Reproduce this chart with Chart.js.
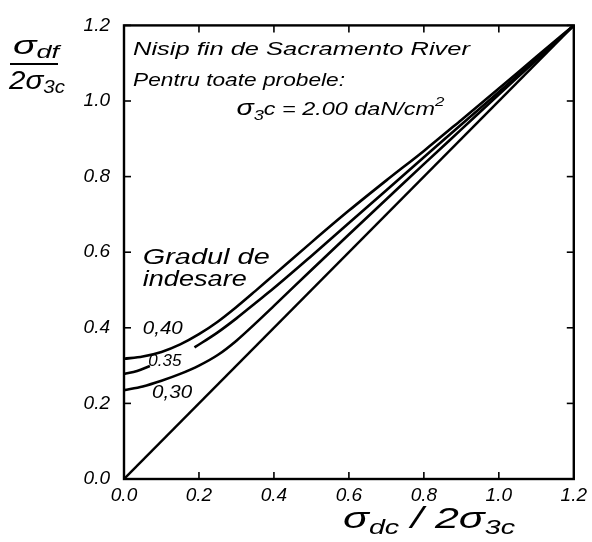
<!DOCTYPE html>
<html><head><meta charset="utf-8">
<script src="https://cdn.jsdelivr.net/npm/chart.js@4/dist/chart.umd.min.js"></script>
<style>html,body{margin:0;padding:0;background:#fff}#wrap{width:592px;height:542px}</style>
</head><body><div id="wrap"><canvas id="c" width="592" height="542"></canvas></div>
<script>
// ---- data ----
const xTicks = [0, 0.2, 0.4, 0.6, 0.8, 1.0, 1.2];
const yTicks = [0, 0.2, 0.4, 0.6, 0.8, 1.0, 1.2];
const densityLabels = ['0,40', '0.35', '0,30'];

const x40 = [0, 0.05, 0.1, 0.15, 0.2, 0.25, 0.3, 0.35, 0.4, 0.5, 0.6, 0.7, 0.8, 0.9, 1.0, 1.1, 1.2];
const y40 = [0.318, 0.324, 0.336, 0.356, 0.383, 0.416, 0.455, 0.497, 0.54, 0.626, 0.71, 0.79, 0.868, 0.95, 1.033, 1.117, 1.2];

const x35 = [0, 0.035, 0.069, 0.13, 0.188, 0.25, 0.3, 0.35, 0.4, 0.5, 0.6, 0.7, 0.8, 0.9, 1.0, 1.1, 1.2];
const y35 = [0.278, 0.286, 0.299, null, 0.348, 0.388, 0.425, 0.465, 0.505, 0.59, 0.677, 0.764, 0.851, 0.938, 1.024, 1.111, 1.2];

const x30 = [0, 0.05, 0.1, 0.15, 0.2, 0.25, 0.3, 0.35, 0.4, 0.5, 0.6, 0.7, 0.8, 0.9, 1.0, 1.1, 1.2];
const y30 = [0.235, 0.245, 0.26, 0.278, 0.30, 0.328, 0.366, 0.411, 0.458, 0.553, 0.647, 0.74, 0.833, 0.925, 1.017, 1.108, 1.2];

const xDiag = [0, 1.2];
const yDiag = [0, 1.2];

const textTitle1 = 'Nisip fin de Sacramento River';
const textTitle2 = 'Pentru toate probele:';
const textLegend1 = 'Gradul de';
const textLegend2 = 'indesare';

function pts(xs, ys) { return xs.map((x, i) => ({x: x, y: ys[i]})); }

const FONT = '"Liberation Sans", "DejaVu Sans", sans-serif';

function lineDs(xs, ys) {
  return {
    data: pts(xs, ys), borderColor: '#000', borderWidth: 2.6, pointRadius: 0,
    fill: false, spanGaps: false, cubicInterpolationMode: 'monotone'
  };
}

// draws a run of [text, size, dy] parts, stretched horizontally to a target width
function drawRun(ctx, parts, x, y, targetW) {
  let total = 0;
  parts.forEach(p => { ctx.font = 'italic ' + p[1] + 'px ' + FONT; total += ctx.measureText(p[0]).width; });
  const sx = targetW ? targetW / total : 1;
  ctx.save();
  ctx.translate(x, y);
  ctx.scale(sx, 1);
  let cx = 0;
  parts.forEach(p => {
    ctx.font = 'italic ' + p[1] + 'px ' + FONT;
    ctx.fillText(p[0], cx, p[2] || 0);
    cx += ctx.measureText(p[0]).width;
  });
  ctx.restore();
}

const decor = {
  id: 'decor',
  afterDraw(chart) {
    const ctx = chart.ctx, a = chart.chartArea;
    const xs = chart.scales.x, ys = chart.scales.y;
    const X = v => xs.getPixelForValue(v), Y = v => ys.getPixelForValue(v);
    ctx.save();
    // frame
    ctx.strokeStyle = '#000'; ctx.lineWidth = 2.4;
    ctx.strokeRect(a.left, a.top, a.right - a.left, a.bottom - a.top);
    // inward ticks
    ctx.lineWidth = 1.6;
    xTicks.forEach(v => {
      const px = X(v);
      ctx.beginPath(); ctx.moveTo(px, a.bottom); ctx.lineTo(px, a.bottom - 7); ctx.stroke();
      ctx.beginPath(); ctx.moveTo(px, a.top); ctx.lineTo(px, a.top + 7); ctx.stroke();
    });
    yTicks.forEach(v => {
      const py = Y(v);
      ctx.beginPath(); ctx.moveTo(a.left, py); ctx.lineTo(a.left + 7, py); ctx.stroke();
      ctx.beginPath(); ctx.moveTo(a.right, py); ctx.lineTo(a.right - 7, py); ctx.stroke();
    });
    ctx.fillStyle = '#000';
    ctx.textBaseline = 'alphabetic';
    ctx.textAlign = 'left';
    // notes
    drawRun(ctx, [[textTitle1, 19]], X(0.024), Y(1.122), 337);
    drawRun(ctx, [[textTitle2, 19]], X(0.024), Y(1.04), 212);
    drawRun(ctx, [['σ', 22], ['3', 14, 5], ['c = 2.00 daN/cm', 18], ['2', 13, -9]], X(0.30), Y(0.963), 208);
    // legend
    drawRun(ctx, [[textLegend1, 22]], X(0.05), Y(0.57), 127);
    drawRun(ctx, [[textLegend2, 22]], X(0.05), Y(0.51), 104);
    drawRun(ctx, [[densityLabels[0], 18]], X(0.05), Y(0.383), 40);
    drawRun(ctx, [[densityLabels[1], 16]], X(0.065), Y(0.298), 33);
    drawRun(ctx, [[densityLabels[2], 18]], X(0.075), Y(0.213), 40);
    // y title (fraction)
    drawRun(ctx, [['σ', 26], ['df', 18, 4]], 13, 54, 46);
    ctx.lineWidth = 2;
    ctx.beginPath(); ctx.moveTo(10, 64); ctx.lineTo(58, 64); ctx.stroke();
    drawRun(ctx, [['2σ', 26], ['3c', 18, 4]], 9, 89, 56);
    // x title
    drawRun(ctx, [['σ', 30], ['dc', 20, 6], [' / 2σ', 30], ['3c', 20, 6]], 343, 528, 172);
    ctx.restore();
  }
};

new Chart(document.getElementById('c'), {
  type: 'line',
  data: {
    datasets: [lineDs(x40, y40), lineDs(x35, y35), lineDs(x30, y30),
      {data: pts(xDiag, yDiag), borderColor: '#000', borderWidth: 2.4, pointRadius: 0, fill: false}]
  },
  options: {
    responsive: false, animation: false,
    layout: {padding: {left: 0, right: 18, top: 19, bottom: 0}},
    plugins: {legend: {display: false}, tooltip: {enabled: false}},
    scales: {
      x: {
        type: 'linear', min: 0, max: 1.2,
        afterFit: s => { s.height = 63; },
        afterBuildTicks: s => { s.ticks = xTicks.map(v => ({value: v})); },
        grid: {display: false, drawTicks: false},
        border: {display: false},
        ticks: {callback: v => v.toFixed(1), color: '#000', padding: 5,
          font: {family: FONT, size: 19, style: 'italic'}, maxRotation: 0}
      },
      y: {
        type: 'linear', min: 0, max: 1.2,
        afterFit: s => { s.width = 124; },
        afterBuildTicks: s => { s.ticks = yTicks.map(v => ({value: v})); },
        grid: {display: false, drawTicks: false},
        border: {display: false},
        ticks: {callback: v => v.toFixed(1), color: '#000', padding: 14,
          font: {family: FONT, size: 19, style: 'italic'}}
      }
    }
  },
  plugins: [decor]
});
</script>
</body></html>
